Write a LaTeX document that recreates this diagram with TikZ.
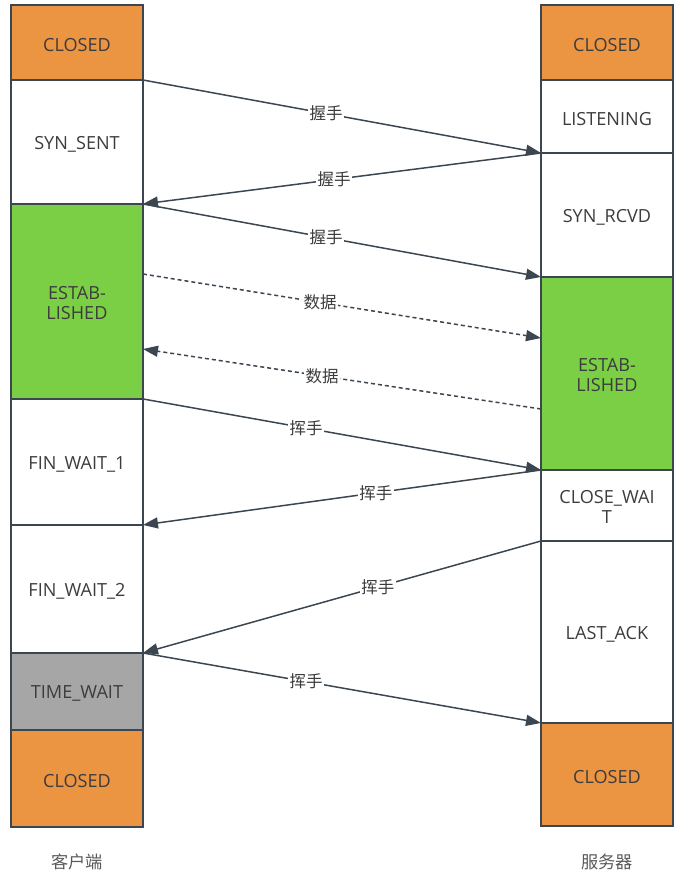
\documentclass[tikz,border=0pt]{standalone}
\usepackage{fontspec}
\setmainfont{Open Sans}
\newfontfamily\cjk{Noto Sans CJK SC}
\usetikzlibrary{arrows.meta}
\definecolor{edgegray}{HTML}{3B4650}
\definecolor{closedfill}{HTML}{EB9442}
\definecolor{estfill}{HTML}{7ACF45}
\definecolor{waitfill}{HTML}{A6A6A6}
\definecolor{txtgray}{HTML}{3C3C3C}
\begin{document}
\begin{tikzpicture}[x=0.02cm, y=-0.02cm, font=\fontsize{10.3}{11.4}\selectfont, text=txtgray]
\tikzstyle{state}=[draw=edgegray, line width=0.8pt, minimum width=2.64cm, anchor=north west, outer sep=0pt, inner sep=0pt, text height=10pt, align=center]
\tikzstyle{twoline}=[text height=21pt]
\tikzstyle{closed}=[state, fill=closedfill]
\tikzstyle{est}=[state, twoline, fill=estfill]
\tikzstyle{msg}=[draw=edgegray, line width=0.85pt, -{Triangle[length=0.3cm, width=0.22cm]}]
\tikzstyle{data}=[msg, dash pattern=on 0.08cm off 0.06cm]
\tikzstyle{lbl}=[fill=white, inner sep=1pt, font=\fontsize{9.4}{11}\selectfont\cjk]
\useasboundingbox (0,0) rectangle (690,894);
\node[closed, minimum height=1.5cm] (cClosedA) at (11,5) {CLOSED};
\node[state, minimum height=2.48cm] (cSynSent) at (11,80) {SYN\_SENT};
\node[est, minimum height=3.9cm] (cEst) at (11,204) {ESTAB-\\LISHED};
\node[state, minimum height=2.52cm] (cFinA) at (11,399) {FIN\_WAIT\_1};
\node[state, minimum height=2.56cm] (cFinB) at (11,525) {FIN\_WAIT\_2};
\node[state, fill=waitfill, minimum height=1.54cm] (cTimeWait) at (11,653) {TIME\_WAIT};
\node[closed, minimum height=1.94cm] (cClosedB) at (11,730) {CLOSED};
\node[closed, minimum height=1.5cm] (sClosedA) at (541,5) {CLOSED};
\node[state, minimum height=1.46cm] (sListen) at (541,80) {LISTENING};
\node[state, minimum height=2.48cm] (sSynRcvd) at (541,153) {SYN\_RCVD};
\node[est, minimum height=3.86cm] (sEst) at (541,277) {ESTAB-\\LISHED};
\node[state, twoline, minimum height=1.42cm] (sCloseWait) at (541,470) {CLOSE\_WAI\\T};
\node[state, minimum height=3.64cm] (sLastAck) at (541,541) {LAST\_ACK};
\node[closed, minimum height=2.06cm] (sClosedB) at (541,723) {CLOSED};
\node[font=\fontsize{9.8}{11}\selectfont\cjk, text=txtgray!85] (client) at (77,862) {客户端};
\node[font=\fontsize{9.8}{11}\selectfont\cjk, text=txtgray!85] (server) at (607,862) {服务器};
\coordinate (cDataOut) at (143,274);
\coordinate (sDataIn) at (541,338);
\coordinate (sDataOut) at (541,409);
\coordinate (cDataIn) at (143,349);
\draw[msg] (cClosedA.south east) -- node[lbl, pos=0.46] {握手} (sListen.south west);
\draw[msg] (sListen.south west) -- node[lbl, pos=0.52] {握手} (cSynSent.south east);
\draw[msg] (cSynSent.south east) -- node[lbl, pos=0.46] {握手} (sSynRcvd.south west);
\draw[data] (cDataOut) -- node[lbl, pos=0.445] {数据} (sDataIn);
\draw[data] (sDataOut) -- node[lbl, pos=0.55] {数据} (cDataIn);
\draw[msg] (cEst.south east) -- node[lbl, pos=0.41] {挥手} (sEst.south west);
\draw[msg] (sEst.south west) -- node[lbl, pos=0.415] {挥手} (cFinA.south east);
\draw[msg] (sCloseWait.south west) -- node[lbl, pos=0.41] {挥手} (cFinB.south east);
\draw[msg] (cFinB.south east) -- node[lbl, pos=0.41] {挥手} (sLastAck.south west);
\end{tikzpicture}
\end{document}
